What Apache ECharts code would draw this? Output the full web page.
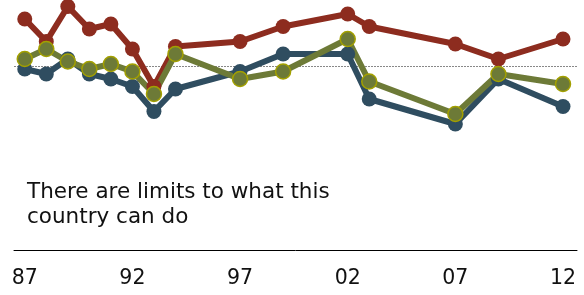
<!DOCTYPE html>
<html>
<head>
<meta charset="utf-8">
<script src="https://cdn.jsdelivr.net/npm/echarts@6/dist/echarts.min.js"></script>
<style>
  html, body { margin: 0; padding: 0; background: #fff; }
  #chart { width: 584px; height: 295px; }
</style>
</head>
<body>
<div id="chart"></div>
<script>
// survey years
var years = [1987, 1988, 1989, 1990, 1991, 1992, 1993, 1994, 1997, 1999, 2002, 2003, 2007, 2009, 2012];
var tickYears = [1987, 1992, 1997, 2002, 2007, 2012];

// percent values
var redValues   = [69, 60, 74, 65, 67, 57, 42, 58, 60, 66, 71, 66, 59, 53, 61];
var blueValues  = [49, 47, 53, 47, 45, 42, 32, 41, 48, 55, 55, 37, 27, 45, 34];
var oliveValues = [53, 57, 52, 49, 51, 48, 39, 55, 45, 48, 61, 44, 31, 47, 43];
var refLine = 50;

function pairs(vals) {
  return years.map(function (y, i) { return [y, vals[i]]; });
}

function makeSeries(name, vals, color, border) {
  return {
    name: name,
    type: 'line',
    data: pairs(vals),
    symbol: 'circle',
    symbolSize: 15,
    lineStyle: { color: color, width: 6 },
    itemStyle: {
      color: color,
      borderColor: border || color,
      borderWidth: border ? 1.5 : 0
    },
    emphasis: { disabled: true },
    z: 2
  };
}

var chart = echarts.init(document.getElementById('chart'), null, { renderer: 'canvas' });

var red = makeSeries('red', redValues, '#8d2c1f');
red.markLine = {
  silent: true,
  symbol: 'none',
  label: { show: false },
  lineStyle: { color: '#888', type: [2, 1], width: 1 },
  data: [{ yAxis: refLine }],
  z: 1
};

var option = {
  backgroundColor: '#ffffff',
  animation: false,
  title: {
    text: 'There are limits to what this\ncountry can do',
    left: 27,
    top: 180,
    padding: 0,
    textStyle: {
      fontFamily: 'DejaVu Sans',
      fontSize: 21.5,
      lineHeight: 25,
      fontWeight: 'normal',
      color: '#111'
    }
  },
  grid: { left: 14, right: 7, top: 1.5, height: 190 },
  xAxis: {
    type: 'value',
    min: 1986.5,
    max: 2012.65,
    offset: 58.5,
    splitLine: { show: false },
    axisTick: { show: false },
    axisLine: { show: true, onZero: false, lineStyle: { color: '#000', width: 1 } },
    axisLabel: {
      customValues: tickYears,
      margin: 18,
      fontFamily: 'DejaVu Sans',
      fontSize: 20.5,
      color: '#111',
      formatter: function (v) { return String(v).slice(2); }
    }
  },
  yAxis: {
    type: 'value',
    min: 0,
    max: 76,
    show: false,
    splitLine: { show: false }
  },
  series: [
    red,
    makeSeries('blue', blueValues, '#2f4d60'),
    makeSeries('olive', oliveValues, '#6d7a37', '#a3a000')
  ]
};

chart.setOption(option);
</script>
</body>
</html>
